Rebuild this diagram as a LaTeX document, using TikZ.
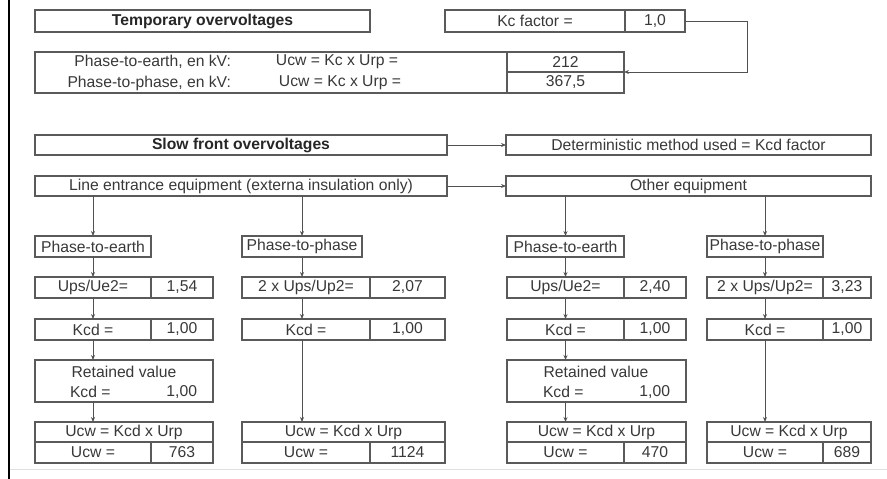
\documentclass[tikz,border=0pt]{standalone}
\usepackage{fontspec}
\setmainfont{Liberation Sans}
\usetikzlibrary{arrows.meta}
\definecolor{edge}{HTML}{5A5A5A}
\definecolor{ink}{HTML}{383838}
\tikzset{
  cell/.style={draw=edge, line width=1.1pt, inner sep=0pt, outer sep=0pt,
    anchor=north west, text=ink, font=\fontsize{15.7}{17}\selectfont},
  txt/.style={inner sep=0pt, outer sep=0pt, text=ink, font=\fontsize{15.7}{17}\selectfont},
  title/.style={font=\bfseries\fontsize{15.7}{17}\selectfont, text=black!85},
  wire/.style={draw=edge!90!black, line width=0.9pt},
  arr/.style={wire, -{Stealth[length=5pt,width=4pt]}}
}
\begin{document}
\begin{tikzpicture}[x=1pt,y=-1pt]
\useasboundingbox (0,0) rectangle (887,479);
% page margin rule and footer line
\draw[black, line width=2pt] (8.5,0) -- (8.5,479);
\draw[black!12, line width=1pt] (10,469) -- (887,469);

% ---- temporary overvoltages ----
\node[cell, title, minimum width=335pt, minimum height=22pt] (temp) at (35,10) {Temporary overvoltages};
\node[cell, minimum width=180pt, minimum height=22pt] (kcl) at (445,10) {Kc factor =};
\node[cell, minimum width=60pt, minimum height=22pt] (kcv) at (625,10) {1,0};

\node[cell, minimum width=472pt, minimum height=41pt] (tbox) at (35,52) {};
\node[cell, minimum width=117pt, minimum height=20pt] (v212) at (507,52) {212};
\node[cell, minimum width=117pt, minimum height=21pt] (v367) at (507,72) {367,5};
\node[txt, anchor=east] (pel) at (231,62) {Phase-to-earth, en kV:};
\node[txt] (pef) at (337,62) {Ucw = Kc x Urp =};
\node[txt, anchor=east] (ppl) at (231,83) {Phase-to-phase, en kV:};
\node[txt] (ppf) at (340,83) {Ucw = Kc x Urp =};

\draw[arr] (kcv.east) -- ++(62,0) |- (v212.south east);

% ---- slow front overvoltages ----
\node[cell, title, minimum width=412pt, minimum height=20pt] (slow) at (35,135) {Slow front overvoltages};
\node[cell, minimum width=365pt, minimum height=20pt] (det) at (506,135) {Deterministic method used = Kcd factor};
\node[cell, minimum width=412pt, minimum height=20pt] (line) at (35,176) {Line entrance equipment (externa insulation only)};
\node[cell, minimum width=365pt, minimum height=20pt] (other) at (506,176) {Other equipment};
\draw[arr] (slow.east) -- (det.west);
\draw[arr] (line.east) -- (other.west);

% phase headers
\node[cell, minimum width=116pt, minimum height=21pt] (pe1) at (35,236) {Phase-to-earth};
\node[cell, minimum width=120pt, minimum height=21pt] (pp1) at (242,236) {Phase-to-phase};
\node[cell, minimum width=117pt, minimum height=21pt] (pe2) at (507,236) {Phase-to-earth};
\node[cell, minimum width=116pt, minimum height=21pt] (pp2) at (707,236) {Phase-to-phase};

% Ups ratio row
\node[cell, minimum width=116pt, minimum height=21pt] (u1l) at (35,277) {Ups/Ue2=};
\node[cell, minimum width=62pt, minimum height=21pt] (u1v) at (151,277) {1,54};
\node[cell, minimum width=128pt, minimum height=21pt] (u2l) at (242,277) {2 x Ups/Up2=};
\node[cell, minimum width=75pt, minimum height=21pt] (u2v) at (370,277) {2,07};
\node[cell, minimum width=117pt, minimum height=21pt] (u3l) at (507,277) {Ups/Ue2=};
\node[cell, minimum width=62pt, minimum height=21pt] (u3v) at (624,277) {2,40};
\node[cell, minimum width=116pt, minimum height=21pt] (u4l) at (707,277) {2 x Ups/Up2=};
\node[cell, minimum width=48pt, minimum height=21pt] (u4v) at (823,277) {3,23};

% Kcd row
\node[cell, minimum width=116pt, minimum height=21pt] (k1l) at (35,319) {Kcd =};
\node[cell, minimum width=62pt, minimum height=21pt] (k1v) at (151,319) {1,00};
\node[cell, minimum width=128pt, minimum height=21pt] (k2l) at (242,319) {Kcd =};
\node[cell, minimum width=75pt, minimum height=21pt] (k2v) at (370,319) {1,00};
\node[cell, minimum width=117pt, minimum height=21pt] (k3l) at (507,319) {Kcd =};
\node[cell, minimum width=62pt, minimum height=21pt] (k3v) at (624,319) {1,00};
\node[cell, minimum width=116pt, minimum height=21pt] (k4l) at (707,319) {Kcd =};
\node[cell, minimum width=48pt, minimum height=21pt] (k4v) at (823,319) {1,00};

% retained values
\node[cell, minimum width=178pt, minimum height=42pt] (r1) at (35,360) {};
\node[txt] (r1a) at (124,372) {Retained value};
\node[txt, anchor=west] (r1b) at (70,392) {Kcd =};
\node[txt, anchor=east] (r1c) at (197,392) {1,00};
\node[cell, minimum width=179pt, minimum height=42pt] (r3) at (507,360) {};
\node[txt] (r3a) at (596,372) {Retained value};
\node[txt, anchor=west] (r3b) at (543,392) {Kcd =};
\node[txt, anchor=east] (r3c) at (670,392) {1,00};

% withstand voltages
\node[cell, minimum width=178pt, minimum height=20pt] (w1) at (35,422) {Ucw = Kcd x Urp};
\node[cell, minimum width=116pt, minimum height=21pt] (w1l) at (35,442) {Ucw =};
\node[cell, minimum width=62pt, minimum height=21pt] (w1v) at (151,442) {763};
\node[cell, minimum width=203pt, minimum height=20pt] (w2) at (242,422) {Ucw = Kcd x Urp};
\node[cell, minimum width=128pt, minimum height=21pt] (w2l) at (242,442) {Ucw =};
\node[cell, minimum width=75pt, minimum height=21pt] (w2v) at (370,442) {1124};
\node[cell, minimum width=179pt, minimum height=20pt] (w3) at (507,422) {Ucw = Kcd x Urp};
\node[cell, minimum width=117pt, minimum height=21pt] (w3l) at (507,442) {Ucw =};
\node[cell, minimum width=62pt, minimum height=21pt] (w3v) at (624,442) {470};
\node[cell, minimum width=164pt, minimum height=20pt] (w4) at (707,422) {Ucw = Kcd x Urp};
\node[cell, minimum width=116pt, minimum height=21pt] (w4l) at (707,442) {Ucw =};
\node[cell, minimum width=48pt, minimum height=21pt] (w4v) at (823,442) {689};

% flow connectors
\draw[arr] (line.south -| pe1) -- (pe1.north);
\draw[arr] (line.south -| pp1) -- (pp1.north);
\draw[arr] (other.south -| pe2) -- (pe2.north);
\draw[arr] (other.south -| pp2) -- (pp2.north);

\draw[arr] (pe1.south) -- (u1l.north -| pe1);
\draw[arr] (u1l.south -| pe1) -- (k1l.north -| pe1);
\draw[arr] (k1l.south -| pe1) -- (r1.north -| pe1);
\draw[arr] (r1.south -| pe1) -- (w1.north -| pe1);

\draw[arr] (pp1.south) -- (u2l.north -| pp1);
\draw[arr] (u2l.south -| pp1) -- (k2l.north -| pp1);
\draw[arr] (k2l.south -| pp1) -- (w2.north -| pp1);

\draw[arr] (pe2.south) -- (u3l.north -| pe2);
\draw[arr] (u3l.south -| pe2) -- (k3l.north -| pe2);
\draw[arr] (k3l.south -| pe2) -- (r3.north -| pe2);
\draw[arr] (r3.south -| pe2) -- (w3.north -| pe2);

\draw[arr] (pp2.south) -- (u4l.north -| pp2);
\draw[arr] (u4l.south -| pp2) -- (k4l.north -| pp2);
\draw[arr] (k4l.south -| pp2) -- (w4.north -| pp2);
\end{tikzpicture}
\end{document}
